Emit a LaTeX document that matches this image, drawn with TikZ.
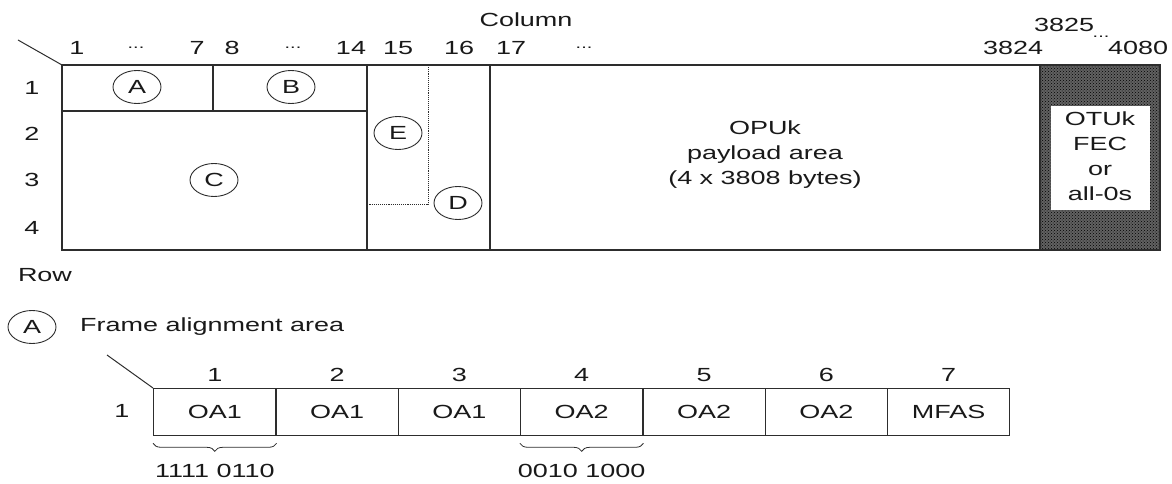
\documentclass[tikz,border=0pt]{standalone}
\usepackage{fontspec}
\setmainfont[FakeStretch=1.42]{Liberation Sans}
\usetikzlibrary{positioning,shapes.geometric,patterns,decorations.pathreplacing}
\definecolor{ink}{RGB}{45,45,45}
\tikzset{t/.style={font=\fontsize{19}{25}\selectfont,text=black!90,inner sep=0pt},
 dts/.style={t,font=\fontsize{14}{16}\selectfont},
 tag/.style={t,draw=ink,ellipse,minimum width=48pt,minimum height=33pt,line width=.9pt},
 ln/.style={draw=ink,line width=1.3pt},
 cell/.style={t,draw=ink,line width=1.3pt,minimum width=122.3pt,minimum height=47pt,anchor=north west},
 brc/.style={draw=ink,line width=.8pt,decorate,decoration={brace,mirror,amplitude=8pt}}}
\begin{document}
\begin{tikzpicture}[x=1pt,y=-1pt]
\useasboundingbox (0,0) rectangle (1172,484);
% frame header
\node[t] (col) at (526,20) {Column};\node[t] (row) at (45,275) {Row};
\coordinate (d0) at (18,40);\coordinate (o) at (62,65);
\draw[ln,line width=1pt] (d0)--(o);
\foreach \x/\s in {77/1,197/7,232/8,351/14,398/15,459/16,511/17,1013/3824,1138/4080}
 \node[t] at (\x,48) {\s};
\foreach \x in {136,293,584} \node[dts] at (\x,48) {...};
\node[t] (c3825) at (1064,25) {3825};\node[dts] at (1101,37) {...};
\foreach \y/\s in {88/1,134/2,180/3,228/4} \node[t] at (32,\y) {\s};
% FEC columns
\fill[black!62] (1040,65) rectangle (1160,250);
\fill[pattern=crosshatch dots,pattern color=black] (1040,65) rectangle (1160,250);
\fill[white] (1051,106) rectangle (1150,210);
\draw[ln] (o) rectangle (1160,250);
\draw[ln] (62,111)--(367,111) (213,65)--(213,111) (367,65)--(367,250)
 (490,65)--(490,250) (1040,65)--(1040,250);
\draw[ink,line width=.9pt,densely dotted] (428,65)--(428,204)--(367,204);
\node[t,align=center] (pl) at (765,155) {OPUk\\payload area\\(4 x 3808 bytes)};
\node[t,align=center] (fec) at (1100,156) {OTUk\\FEC\\or\\all-0s};
\node[tag] (A) at (137,87) {A};\node[tag] (B) at (291,87) {B};
\node[tag] (C) at (214,180) {C};\node[tag] (E) at (398,133) {E};
\node[tag] (D) at (458,203) {D};
% frame alignment area
\node[tag] (key) at (32,327) {A};
\node[t,anchor=west] (ttl) at (80,327) {Frame alignment area};
\foreach \i/\s in {1/OA1,2/OA1,3/OA1,4/OA2,5/OA2,6/OA2,7/MFAS}{
 \node[cell] (c\i) at ({153+122.3*(\i-1)},388) {\s};
 \node[t] at ([yshift=13pt]c\i.north) {\i};}
\node[t] (r1) at (122,411) {1};
\coordinate (d1) at (107,355);
\draw[ln,line width=1pt] (d1)--(c1.north west);
\draw[brc] ([yshift=-7pt]c1.south west)--([yshift=-7pt]c1.south east);
\draw[brc] ([yshift=-7pt]c4.south west)--([yshift=-7pt]c4.south east);
\node[t] (b1) at ([yshift=-35pt]c1.south) {1111 0110};
\node[t] (b4) at ([yshift=-35pt]c4.south) {0010 1000};
\end{tikzpicture}
\end{document}
